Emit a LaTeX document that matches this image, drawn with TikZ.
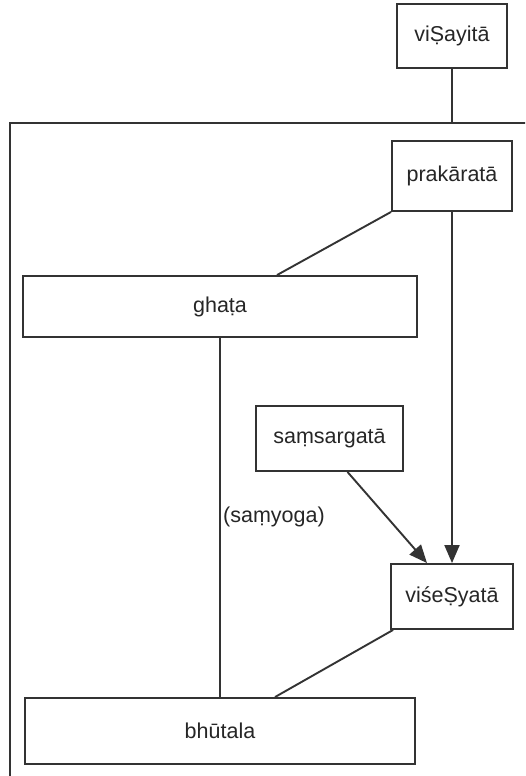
\documentclass[tikz,border=0pt]{standalone}
\usepackage{fontspec}
\setmainfont{Liberation Sans}
\usetikzlibrary{arrows.meta}
\begin{document}
\begin{tikzpicture}[x=1pt,y=-1pt,
  line/.style={draw=black!80,line width=1.9pt},
  box/.style={line,fill=white,inner sep=0pt,font=\fontsize{21.5}{25}\selectfont,text=black!85},
  arr/.style={line,-{Triangle[length=18pt,width=15pt]}}]
\useasboundingbox (0,0) rectangle (525,776);
\clip (0,0) rectangle (525,776);
\fill[white] (0,0) rectangle (525,776);
% enclosing frame, open to the right and bottom
\coordinate (ftopright) at (540,123);
\coordinate (fcorner) at (10,123);
\coordinate (fbottom) at (10,790);
\draw[line] (ftopright) -- (fcorner) -- (fbottom);
% boxes
\node[box,minimum width=110pt,minimum height=64pt] (visayita) at (452,36) {viṢayitā};
\node[box,minimum width=120pt,minimum height=70pt] (prakarata) at (452,176) {prakāratā};
\node[box,minimum width=394pt,minimum height=61pt] (ghata) at (220,306.5) {ghaṭa};
\node[box,minimum width=147pt,minimum height=65pt] (samsargata) at (329.5,438.5) {saṃsargatā};
\node[box,minimum width=122pt,minimum height=65pt] (visesyata) at (452,596.5) {viśeṢyatā};
\node[box,minimum width=390pt,minimum height=66pt] (bhutala) at (220,731) {bhūtala};
% connectors
\coordinate (ftop) at (visayita.south |- fcorner);
\draw[line] (visayita.south) -- (ftop);
\draw[line] (prakarata.south west) -- ([xshift=57pt]ghata.north);
\draw[arr] (prakarata.south) -- (visesyata.north -| prakarata.south);
\draw[arr] ([xshift=18pt]samsargata.south) -- ([xshift=-25pt]visesyata.north);
\draw[line] (ghata.south) -- (ghata.south |- bhutala.north);
\node[anchor=west,inner sep=0pt,font=\fontsize{21.5}{25}\selectfont,text=black!85] (samyoga) at (223,517) {(saṃyoga)};
\draw[line] ([xshift=3pt]visesyata.south west) -- ([xshift=55pt]bhutala.north);
\end{tikzpicture}
\end{document}
